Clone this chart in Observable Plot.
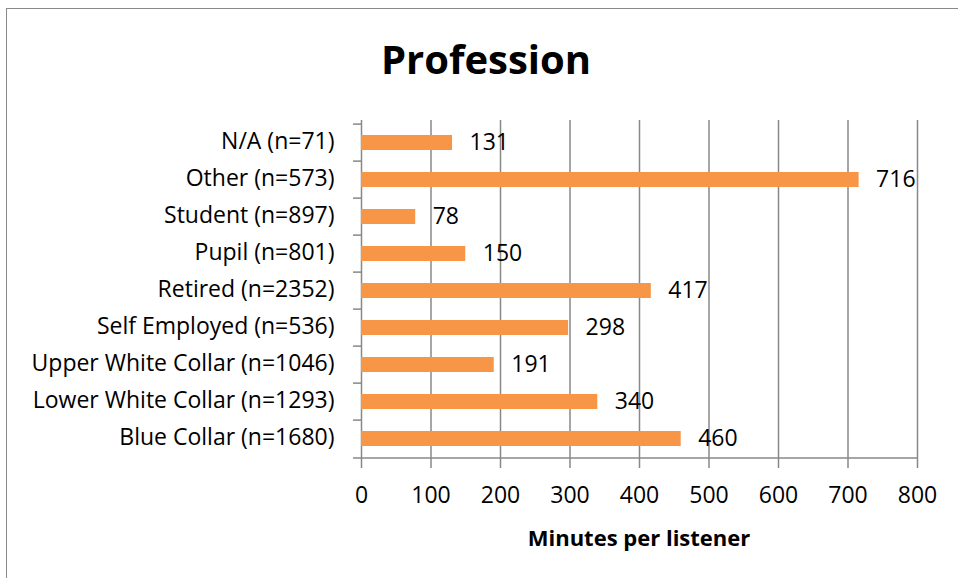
<!DOCTYPE html>
<html>
<head>
<meta charset="utf-8">
<script src="https://cdn.jsdelivr.net/npm/d3@7"></script>
<script src="https://cdn.jsdelivr.net/npm/@observablehq/plot@0.6"></script>
<style>
  html, body { margin: 0; padding: 0; background: #fff; }
  #wrap { position: relative; width: 958px; height: 578px; overflow: hidden; font-family: "Open Sans", sans-serif; }
  #frame { position: absolute; left: 6px; top: 8px; width: 1000px; height: 1000px; border-left: 1.5px solid #8a8a8a; border-top: 1.5px solid #8a8a8a; }
  #title { position: absolute; left: 0; top: 39px; width: 972px; text-align: center; font-weight: 700; font-size: 40px; color: #000; line-height: 1; }
  #xtitle { position: absolute; left: 361px; width: 556px; top: 526px; text-align: center; font-weight: 700; font-size: 22px; color: #000; line-height: 1; }
  #chart { position: absolute; left: 0; top: 80px; }
</style>
</head>
<body>
<div id="wrap">
  <div id="frame"></div>
  <div id="title">Profession</div>
  <div id="chart"></div>
  <div id="xtitle">Minutes per listener</div>
</div>
<script>
const categories = [
  "N/A (n=71)",
  "Other (n=573)",
  "Student (n=897)",
  "Pupil (n=801)",
  "Retired (n=2352)",
  "Self Employed (n=536)",
  "Upper White Collar (n=1046)",
  "Lower White Collar (n=1293)",
  "Blue Collar (n=1680)"
];
const minutes = [131, 716, 78, 150, 417, 298, 191, 340, 460];
const xTicks = [0, 100, 200, 300, 400, 500, 600, 700, 800];

const data = categories.map((c, i) => ({category: c, value: minutes[i]}));

const gray = "#888888";
const step = 340 / categories.length;

const chart = Plot.plot({
  width: 958,
  height: 498,
  marginTop: 40,
  marginBottom: 118,
  marginLeft: 361,
  marginRight: 41,
  style: {fontFamily: "'Open Sans', sans-serif", fontSize: "23px", color: "#000", background: "transparent"},
  x: {domain: [0, 800]},
  y: {domain: categories, paddingInner: 0.6, paddingOuter: 0.3},
  marks: [
    Plot.ruleX(xTicks, {stroke: gray, strokeWidth: 1.5, strokeOpacity: 1, insetBottom: -8}),
    Plot.ruleY(categories, {x1: 0, x2: 0, dy: -step / 2, insetLeft: -8, stroke: gray, strokeWidth: 1.5}),
    Plot.ruleY([categories[categories.length - 1]], {x1: 0, x2: 800, dy: step / 2, insetLeft: -8, stroke: gray, strokeWidth: 1.5}),
    Plot.barX(data, {x: "value", y: "category", fill: "#F79646"}),
    Plot.axisX({ticks: xTicks, tickSize: 0, tickPadding: 26, tickFormat: d => String(d), fontSize: 23, label: null, fill: "#000"}),
    Plot.axisY({tickSize: 0, tickPadding: 27, fontSize: 23, label: null, fill: "#000", dy: -1.5}),
    Plot.text(data, {x: "value", y: "category", text: d => String(d.value), textAnchor: "start", dx: 17, dy: 0, fontSize: 23, fill: "#000"})
  ]
});
document.getElementById("chart").appendChild(chart);
</script>
</body>
</html>
